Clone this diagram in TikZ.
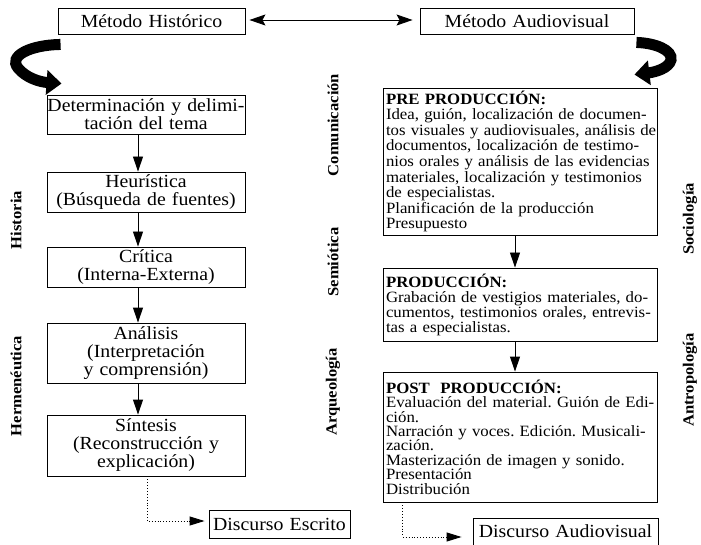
\documentclass[tikz,border=0pt]{standalone}
\usepackage{fontspec}
\setmainfont{Liberation Serif}[FakeStretch=1.07]
\usetikzlibrary{arrows.meta}
\frenchspacing
\newcommand\jline[1]{\makebox[268pt][s]{#1}}
\begin{document}
\begin{tikzpicture}[x=1pt,y=-1pt,
  lbox/.style={draw, line width=0.9pt, inner sep=0pt, text width=198pt, align=center,
    font=\fontsize{18.5}{18}\selectfont},
  rbox/.style={draw, line width=0.9pt, inner xsep=3pt, inner ysep=0pt, text width=268pt, align=left},
  lab/.style={rotate=90, inner sep=0pt, font=\bfseries\fontsize{15.5}{16}\selectfont},
  varr/.style={line width=0.9pt, -{Triangle[width=10pt,length=15pt]}},
  darr/.style={line width=0.9pt, {Stealth[width=11pt,length=16pt,inset=3pt]}-{Stealth[width=11pt,length=16pt,inset=3pt]}},
  dotarr/.style={line width=0.9pt, dotted, -{Triangle[width=9pt,length=15pt]}},
  bigarr/.style={line width=11pt, -{Triangle[width=24pt,length=15pt]}}
]
\path[use as bounding box] (0,0) rectangle (701,545);

% top boxes
\node[lbox, text width=187pt, minimum height=26pt] (hist) at (151.5,21) {Método Histórico};
\node[lbox, text width=214pt, minimum height=26pt] (aud) at (527,21) {Método Audiovisual};
\draw[darr] ([xshift=4pt,yshift=1pt]hist.east) -- ([xshift=-7pt,yshift=1pt]aud.west);

% left column
\node[lbox, minimum height=39pt] (det) at (146,114.5) {Determinación y delimi-\\tación del tema};
\node[lbox, minimum height=40pt] (heu) at (146,192) {Heurística\\(Búsqueda de fuentes)};
\node[lbox, minimum height=40pt] (cri) at (146,267) {Crítica\\(Interna-Externa)};
\node[lbox, minimum height=60pt] (ana) at (146,353) {Análisis\\(Interpretación\\y comprensión)};
\node[lbox, minimum height=61pt] (sin) at (146,445.5) {Síntesis\\(Reconstrucción y\\explicación)};
\node[lbox, text width=141pt, minimum height=28pt] (esc) at (279.5,524) {Discurso Escrito};

\draw[varr] ([xshift=-8pt]det.south) -- ([xshift=-8pt]heu.north);
\draw[varr] ([xshift=-8pt]heu.south) -- ([xshift=-8pt]cri.north);
\draw[varr] ([xshift=-8pt]cri.south) -- ([xshift=-8pt]ana.north);
\draw[varr] ([xshift=-8pt]ana.south) -- ([xshift=-8pt]sin.north);
\draw[dotarr] ([xshift=1pt]sin.south) |- ([xshift=-4pt,yshift=3pt]esc.west);

% right column
\node[rbox, minimum height=147pt, font=\fontsize{15.7}{15.6}\selectfont] (pre) at (520,161.5) {%
\textbf{PRE PRODUCCIÓN:}\\
\jline{Idea, guión, localización de documen-}\\
\jline{tos visuales y audiovisuales, análisis de}\\
\jline{documentos, localización de testimo-}\\
\jline{nios orales y análisis de las evidencias}\\
\jline{materiales, localización y testimonios}\\
de especialistas.\\
Planificación de la producción\\
Presupuesto};
\node[rbox, minimum height=73pt, font=\fontsize{15.7}{15}\selectfont] (pro) at (520,304.5) {%
\textbf{PRODUCCIÓN:}\\
\jline{Grabación de vestigios materiales, do-}\\
\jline{cumentos, testimonios orales, entrevis-}\\
tas a especialistas.};
\node[rbox, minimum height=130pt, font=\fontsize{15.7}{14.4}\selectfont] (post) at (520,437) {%
\textbf{POST\ \ PRODUCCIÓN:}\\
\jline{Evaluación del material. Guión de Edi-}\\
ción.\\
\jline{Narración y voces. Edición. Musicali-}\\
zación.\\
Masterización de imagen y sonido.\\
Presentación\\
Distribución};
\node[lbox, text width=185pt, minimum height=27pt] (dav) at (565.5,531.5) {Discurso Audiovisual};

\draw[varr] ([xshift=-5pt]pre.south) -- ([xshift=-5pt]pro.north);
\draw[varr] ([xshift=-5pt]pro.south) -- ([xshift=-5pt]post.north);
\draw[dotarr] ([xshift=20pt]post.south west) |- ([xshift=-11pt,yshift=-5.5pt]dav.west);

% thick curved arrows
\draw[bigarr] ([xshift=3pt,yshift=-10pt]hist.south west)
  .. controls (30,45) and (8,56) .. (18,68)
  .. controls (26,78) and (40,82) .. ([xshift=15pt,yshift=11pt]det.north west);
\draw[bigarr] ([xshift=2pt,yshift=-8pt]aud.south east)
  .. controls (655,43) and (673,50) .. (671,60)
  .. controls (669,68) and (656,72) .. ([xshift=-23pt,yshift=13pt]pre.north east);

% side labels
\node[lab] (l1) at (16,220) {Historia};
\node[lab] (l2) at (16,386) {Hermenéutica};
\node[lab] (l3) at (333,125) {Comunicación};
\node[lab] (l4) at (333,262) {Semiótica};
\node[lab] (l5) at (333,392) {Arqueología};
\node[lab] (l6) at (690,219) {Sociología};
\node[lab] (l7) at (690,380) {Antropología};
\end{tikzpicture}
\end{document}
